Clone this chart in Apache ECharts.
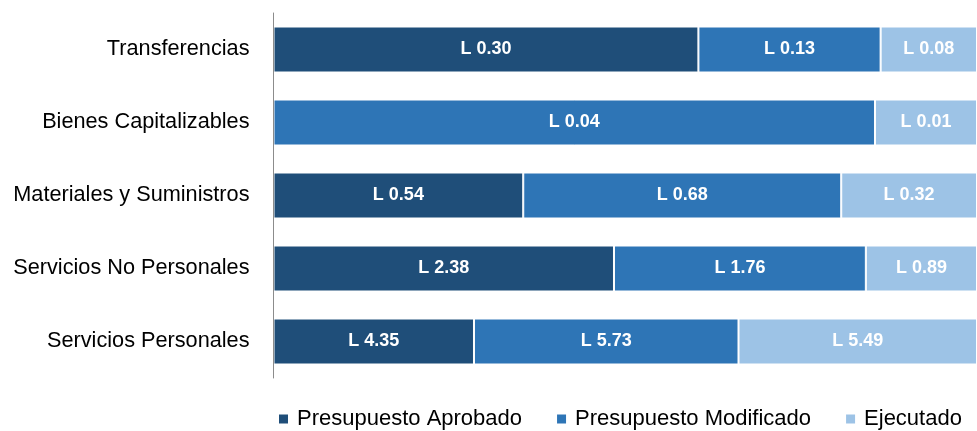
<!DOCTYPE html>
<html>
<head>
<meta charset="utf-8">
<script src="https://cdn.jsdelivr.net/npm/echarts@6/dist/echarts.min.js"></script>
<style>
html,body{margin:0;padding:0;background:#fff;}
#chart{width:977px;height:431px;}
</style>
</head>
<body>
<div id="chart"></div>
<script>
// Categories, top to bottom
const categories = ['Transferencias', 'Bienes Capitalizables', 'Materiales y Suministros', 'Servicios No Personales', 'Servicios Personales'];
const seriesNames = ['Presupuesto Aprobado', 'Presupuesto Modificado', 'Ejecutado'];
// Share of each bar (percent of row total)
const aprobadoShare = [60.4, 0, 35.5, 48.4, 28.5];
const modificadoShare = [25.9, 85.5, 45.2, 35.8, 37.6];
const ejecutadoShare = [13.7, 14.5, 19.3, 15.8, 33.9];
// Amounts shown on the bars (Lempiras, millions)
const aprobadoValue = [0.30, 0, 0.54, 2.38, 4.35];
const modificadoValue = [0.13, 0.04, 0.68, 1.76, 5.73];
const ejecutadoValue = [0.08, 0.01, 0.32, 0.89, 5.49];

const colors = ['#1F4E79', '#2E75B6', '#9DC3E6'];
const shares = [aprobadoShare, modificadoShare, ejecutadoShare];
const values = [aprobadoValue, modificadoValue, ejecutadoValue];

const chart = echarts.init(document.getElementById('chart'), null, {renderer: 'canvas'});
const series = seriesNames.map((name, s) => ({
  name: name,
  type: 'bar',
  stack: 'total',
  barWidth: 46,
  data: shares[s].map((v, i) => ({value: v, amount: values[s][i]})),
  itemStyle: {color: colors[s], borderColor: '#ffffff', borderWidth: 1},
  label: {
    show: true,
    position: 'inside',
    color: '#ffffff',
    fontFamily: '"Liberation Sans Narrow", "Arial Narrow", "Liberation Sans", Arial, sans-serif',
    fontWeight: 'bold',
    fontSize: 18,
    formatter: p => (p.value > 0 ? 'L ' + p.data.amount.toFixed(2) : '')
  },
  emphasis: {disabled: true}
}));

chart.setOption({
  animation: false,
  color: colors,
  textStyle: {fontFamily: '"Liberation Sans", Arial, sans-serif'},
  grid: {left: 273.5, right: 0, top: 13, bottom: 53, containLabel: false},
  legend: {
    data: seriesNames,
    left: 272,
    top: 403,
    icon: 'rect',
    itemWidth: 11,
    itemHeight: 11,
    itemGap: 33,
    textStyle: {fontSize: 22, color: '#000', padding: [0, 0, 0, 3], fontFamily: '"Liberation Sans", Arial, sans-serif'}
  },
  xAxis: {
    type: 'value',
    min: 0,
    max: 100,
    show: false
  },
  yAxis: {
    type: 'category',
    data: categories,
    inverse: true,
    z: 5,
    axisLine: {show: true, lineStyle: {color: '#8c8c8c', width: 1}},
    axisTick: {show: false},
    axisLabel: {fontSize: 21.7, color: '#000', margin: 24, fontFamily: '"Liberation Sans", Arial, sans-serif'},
    splitLine: {show: false}
  },
  series: series
});
</script>
</body>
</html>
